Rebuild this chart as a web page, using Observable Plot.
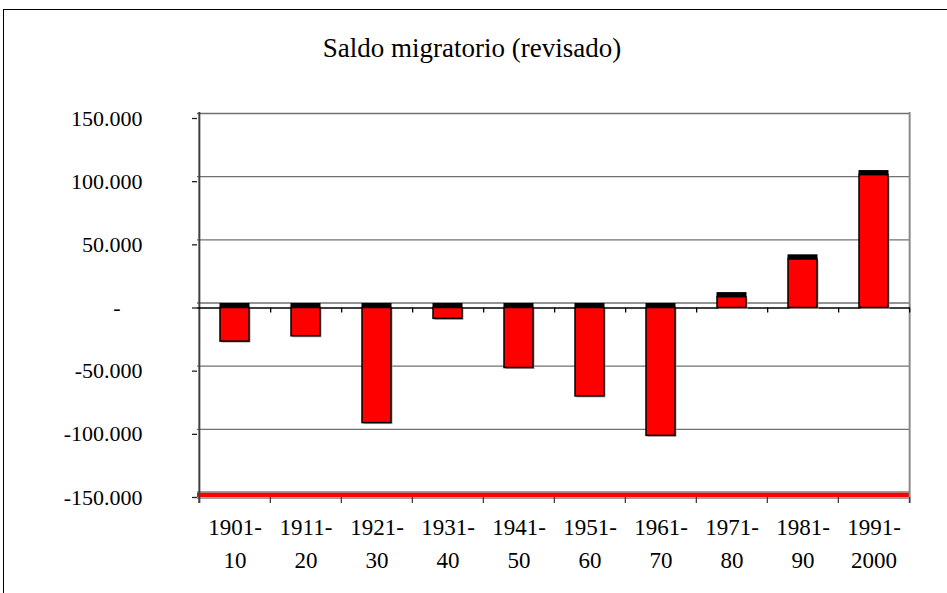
<!DOCTYPE html>
<html><head><meta charset="utf-8">
<script src="https://cdn.jsdelivr.net/npm/d3@7"></script>
<script src="https://cdn.jsdelivr.net/npm/@observablehq/plot@0.6"></script>
<style>
body{margin:0;background:#fff;}
#wrap{position:relative;width:947px;height:593px;overflow:hidden;font-family:"Liberation Serif","Times New Roman",serif;}
#frame{position:absolute;left:3px;top:9px;width:1000px;height:1000px;border-left:1.5px solid #000;border-top:1.5px solid #000;}
#title{position:absolute;top:32px;left:0px;width:944px;text-align:center;font-size:27px;line-height:32px;color:#000;}
#chart{position:absolute;left:0;top:0;}
</style></head>
<body>
<div id="wrap"><div id="frame"></div><div id="chart"></div><div id="title">Saldo migratorio (revisado)</div></div>
<script>
const categories = ["1901-10","1911-20","1921-30","1931-40","1941-50","1951-60","1961-70","1971-80","1981-90","1991-2000"];
const labelsTop = ["1901-","1911-","1921-","1931-","1941-","1951-","1961-","1971-","1981-","1991-"];
const labelsBottom = ["10","20","30","40","50","60","70","80","90","2000"];
const values = [-26600, -22400, -91100, -8600, -47500, -70000, -101200, 8600, 38500, 105200];
const yTicks = [-150000, -100000, -50000, 0, 50000, 100000, 150000];
const yDomain = [-150000, 150000];

const W = 947, H = 593, ML = 197, MR = 37, MT = 118, MB = 96;
const step = (W - ML - MR) / categories.length;
const first = categories[0], last = categories[categories.length - 1];
const data = categories.map((c, i) => ({c, v: values[i], top: Math.max(values[i], 0)}));
const fmt = d => d === 0 ? "-\u00a0\u00a0\u00a0\u00a0" : (d < 0 ? "-" : "") + d3.format(",")(Math.abs(d)).replace(/,/g, ".");
const barInset = 21;

const chart = Plot.plot({
  width: W, height: H,
  marginLeft: ML, marginRight: MR, marginTop: MT, marginBottom: MB,
  style: {fontFamily: '"Liberation Serif","Times New Roman",serif', fontSize: "22px", color: "#000", background: "transparent"},
  x: {type: "band", domain: categories, padding: 0, axis: null},
  y: {domain: yDomain, axis: null},
  marks: [
    // back-wall gridlines
    Plot.ruleY(yTicks.filter(d => d > yDomain[0]), {stroke: "#707070", strokeWidth: 1.4, dy: -5}),
    // floor
    Plot.ruleY([yDomain[0]], {stroke: "#808080", strokeWidth: 1.5, dy: -5.5}),
    Plot.ruleY([yDomain[0]], {stroke: "#ff0000", strokeWidth: 4.5, dy: -2.5}),
    Plot.ruleY([yDomain[0]], {stroke: "#808080", strokeWidth: 1.2, dy: 0.6}),
    // walls
    Plot.ruleX([last], {x: d => d, dx: step / 2, stroke: "#8a8a8a", strokeWidth: 2, insetTop: -6, insetBottom: -6}),
    Plot.ruleX([first], {x: d => d, dx: -step / 2, stroke: "#404040", strokeWidth: 2, insetTop: -6, insetBottom: -6}),
    // category axis at zero
    Plot.ruleY([0], {stroke: "#000", strokeWidth: 1.3}),
    Plot.ruleX(categories, {x: d => d, dx: step / 2, y1: 0, y2: 0, insetBottom: -5, stroke: "#000", strokeWidth: 1.3}),
    // bottom ticks
    Plot.ruleX(categories, {x: d => d, dx: -step / 2, y1: yDomain[0], y2: yDomain[0], insetBottom: -6, stroke: "#404040", strokeWidth: 1.3}),
    Plot.ruleX([last], {x: d => d, dx: step / 2, y1: yDomain[0], y2: yDomain[0], insetBottom: -6, stroke: "#404040", strokeWidth: 1.3}),
    // bars
    Plot.barY(data, {x: "c", y: "v", fill: "#a8a8a8", insetLeft: barInset, insetRight: barInset, dx: 1.5, dy: 1.5}),
    Plot.barY(data, {x: "c", y: "v", fill: "#ff0000", stroke: "#000", strokeWidth: 1.5, insetLeft: barInset, insetRight: barInset}),
    Plot.barY(data, {x: "c", y1: "top", y2: "top", fill: "#000", stroke: "#000", strokeWidth: 1, insetLeft: barInset, insetRight: barInset, insetTop: -4}),
    // y axis
    Plot.axisY({ticks: yTicks, tickFormat: fmt, tickSize: 5, tickPadding: 50, stroke: "#222", strokeWidth: 1.3, fontSize: 22}),
    // x labels
    Plot.text(categories, {x: d => d, text: (d, i) => labelsTop[i] + "\n" + labelsBottom[i], frameAnchor: "bottom", lineAnchor: "middle", lineHeight: 1.45, dy: 43, fontSize: 23, fill: "#000"})
  ]
});
document.getElementById("chart").appendChild(chart);
</script>
</body></html>
